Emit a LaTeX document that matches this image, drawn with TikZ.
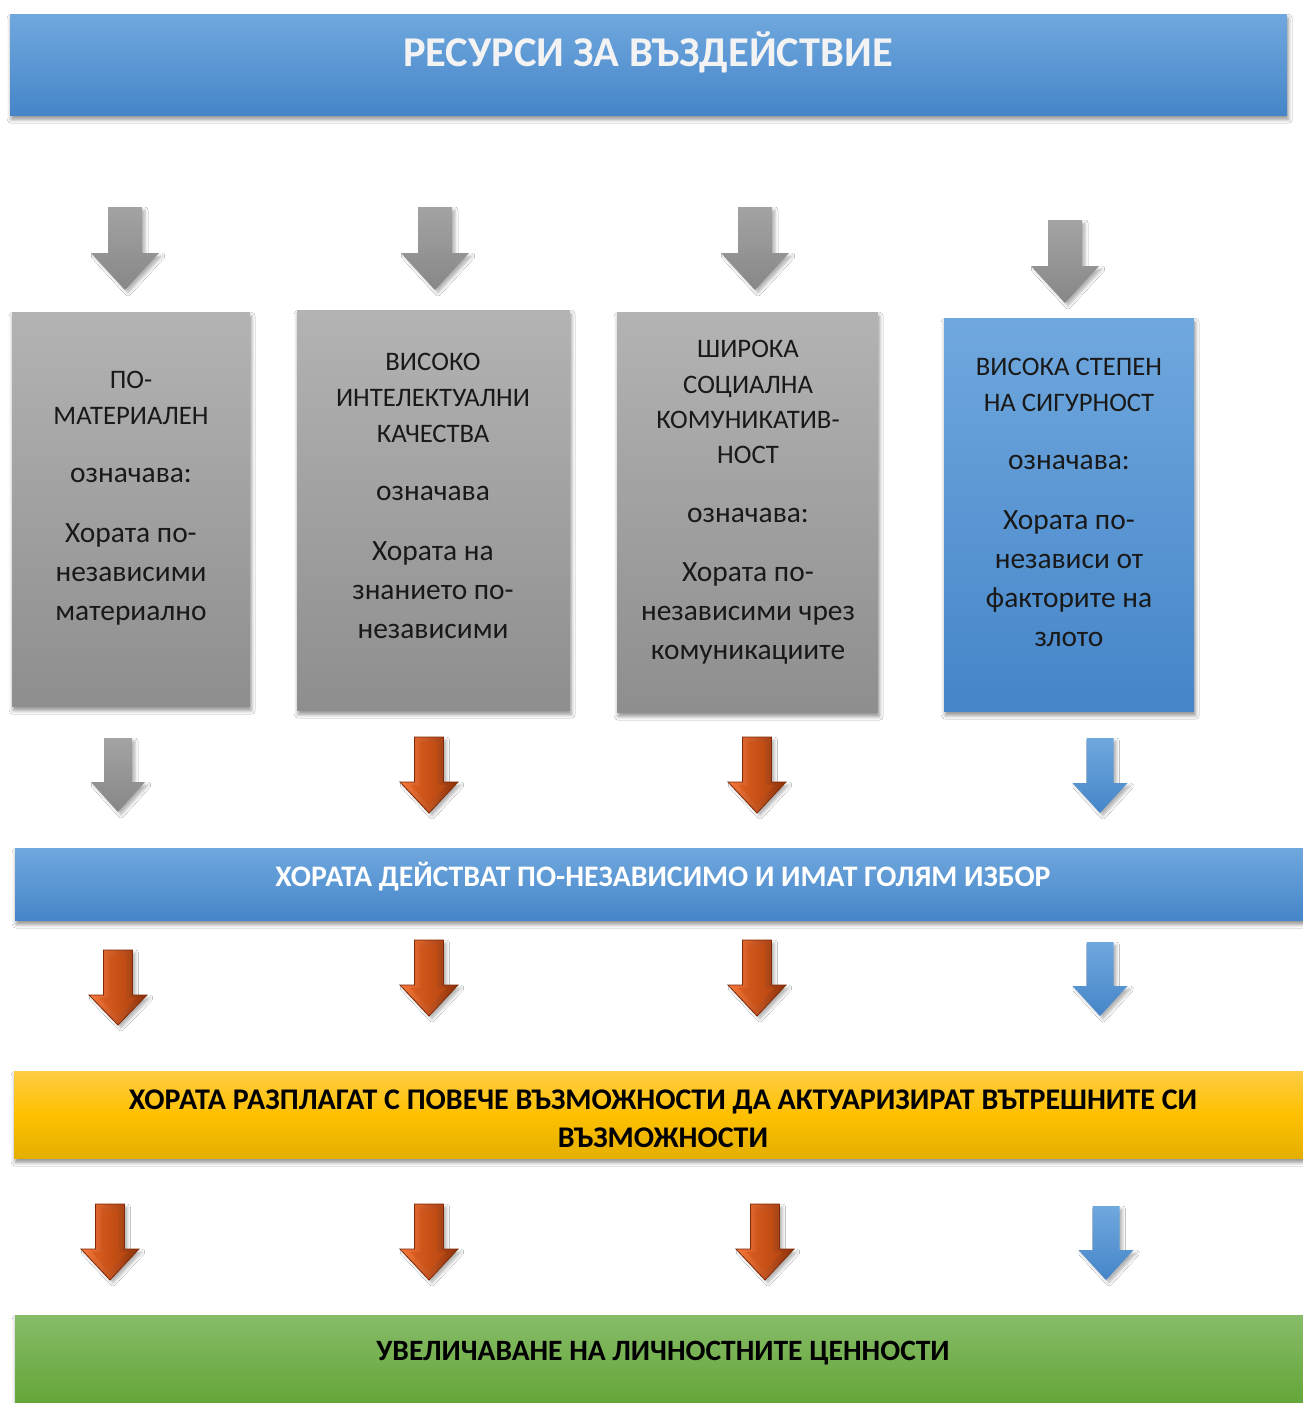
\documentclass[tikz,border=0pt]{standalone}
\usepackage{fontspec}
\setmainfont{Carlito}
\usetikzlibrary{shadows,shadows.blur}
\definecolor{blueTop}{HTML}{70A8DE}
\definecolor{blueBot}{HTML}{4585C8}
\definecolor{grayTop}{HTML}{B3B3B3}
\definecolor{grayBot}{HTML}{8E8E8E}
\definecolor{arrGrayTop}{HTML}{A3A3A3}
\definecolor{arrGrayBot}{HTML}{878787}
\definecolor{oraRimL}{HTML}{F8783A}
\definecolor{oraRimR}{HTML}{8C3008}
\definecolor{oraFaceL}{HTML}{DC5E20}
\definecolor{oraFaceR}{HTML}{B4450F}
\definecolor{oraEdge}{HTML}{7E2A08}
\definecolor{yelTop}{HTML}{FFCD45}
\definecolor{yelMid}{HTML}{FEC000}
\definecolor{yelBot}{HTML}{E4AF00}
\definecolor{grnTop}{HTML}{86BC68}
\definecolor{grnBot}{HTML}{60A232}
\definecolor{txtWhite}{HTML}{F3F3F3}
% block arrow: style, centre x, top y, head-start y, tip y, shaft half-width, head half-width
\newcommand\blockarr[7]{%
  \path[#1] ({(#2)-(#6)},{#3}) -- ({(#2)+(#6)},{#3}) -- ({(#2)+(#6)},{#4}) -- ({(#2)+(#7)},{#4}) -- ({#2},{#5}) -- ({(#2)-(#7)},{#4}) -- ({(#2)-(#6)},{#4}) -- cycle;}
% bevelled orange arrow
\newcommand\orangearr[6]{%
  \blockarr{orouter}{#1}{#2}{#3}{#4}{#5}{#6}%
  \blockarr{orinner}{#1-0.5}{#2+5}{#3+3}{#4-8}{#5-5.5}{#6-11}}
\newcommand\capsz{\fontsize{26.7}{36}\selectfont}
\begin{document}
\begin{tikzpicture}[x=1pt,y=-1pt,
  shad/.style={blur shadow={shadow xshift=1pt,shadow yshift=-4pt,shadow blur radius=4pt,shadow opacity=45}},
  bluebox/.style={shad,top color=blueTop,bottom color=blueBot,draw=none,inner sep=0pt},
  graybox/.style={shad,top color=grayTop,bottom color=grayBot,draw=none,inner sep=0pt},
  yelbox/.style={shad,top color=yelTop,bottom color=yelBot,middle color=yelMid,draw=none,inner sep=0pt},
  grnbox/.style={shad,top color=grnTop,bottom color=grnBot,draw=none,inner sep=0pt},
  boxtext/.style={align=center,text=black!90,inner sep=0pt,anchor=base,font=\fontsize{29.4}{39}\selectfont},
  bandtext/.style={align=center,inner sep=0pt},
  arrshad/.style={blur shadow={shadow xshift=3pt,shadow yshift=-3pt,shadow blur radius=3pt,shadow opacity=30}},
  grayarr/.style={arrshad,top color=arrGrayTop,bottom color=arrGrayBot},
  orouter/.style={arrshad,left color=oraRimL,right color=oraRimR,draw=oraEdge,line width=0.8pt,line join=miter},
  orinner/.style={left color=oraFaceL,right color=oraFaceR},
  bluarr/.style={arrshad,top color=blueTop,bottom color=blueBot},
]
\useasboundingbox (0,0) rectangle (1303,1403);
\fill[white] (0,0) rectangle (1303,1403);

% title
\node[bluebox,minimum width=1277,minimum height=101,anchor=north west] (title) at (10,14) {};
\node[bandtext,text=txtWhite,font=\bfseries\fontsize{42.5}{46}\selectfont] (titletxt) at (648,52) {РЕСУРСИ ЗА ВЪЗДЕЙСТВИЕ};

% top gray arrows
\blockarr{grayarr}{125}{207}{253}{290}{17}{34}
\blockarr{grayarr}{435}{207}{253}{290}{17}{34}
\blockarr{grayarr}{755}{207}{253}{290}{17}{34}
\blockarr{grayarr}{1065}{220}{266}{303}{17}{34}

% four boxes
\node[graybox,minimum width=238,minimum height=394,anchor=north west] (b1) at (12,312) {};
\node[graybox,minimum width=273,minimum height=400,anchor=north west] (b2) at (297,310) {};
\node[graybox,minimum width=261,minimum height=400,anchor=north west] (b3) at (617,312) {};
\node[bluebox,minimum width=250,minimum height=393,anchor=north west] (b4) at (944,318) {};

\node[boxtext] (t1) at (131,620)
 {{\capsz ПО-}\\[-3pt]{\capsz МАТЕРИАЛЕН}\\[19pt]
  означава:\\[21pt]Хората по-\\независими\\материално};
\node[boxtext] (t2) at (433,638)
 {{\capsz ВИСОКО}\\[-3pt]{\capsz ИНТЕЛЕКТУАЛНИ}\\[-3pt]{\capsz КАЧЕСТВА}\\[19pt]
  означава\\[21pt]Хората на\\знанието по-\\независими};
\node[boxtext] (t3) at (748,659)
 {{\capsz ШИРОКА}\\[-3pt]{\capsz СОЦИАЛНА}\\[-4pt]{\capsz КОМУНИКАТИВ-}\\[-4pt]{\capsz НОСТ}\\[20pt]
  означава:\\[20pt]Хората по-\\независими чрез\\комуникациите};
\node[boxtext] (t4) at (1069,646)
 {{\capsz ВИСОКА СТЕПЕН}\\[-3pt]{\capsz НА СИГУРНОСТ}\\[19pt]
  означава:\\[21pt]Хората по-\\независи от\\факторите на\\злото};

% row 2 arrows
\blockarr{grayarr}{118}{738}{782}{812}{14}{27}
\orangearr{429}{737}{782}{813}{14.5}{29}
\orangearr{757}{737}{782}{813}{14.5}{29}
\blockarr{bluarr}{1100}{738}{783}{813}{13.5}{27.5}

% band 2
\node[bluebox,minimum width=1300,minimum height=72,anchor=north west] (band2) at (15,848) {};
\node[bandtext,text=white,font=\bfseries\fontsize{29.8}{34}\selectfont] (band2txt) at (663,877) {ХОРАТА ДЕЙСТВАТ ПО-НЕЗАВИСИМО И ИМАТ ГОЛЯМ ИЗБОР};

% row 3 arrows
\orangearr{118}{950}{995}{1025}{14.5}{29}
\orangearr{429}{940}{985}{1016}{14.5}{29}
\orangearr{757}{940}{985}{1016}{14.5}{29}
\blockarr{bluarr}{1100}{942}{986}{1016}{13.5}{27.5}

% band 3
\node[yelbox,minimum width=1300,minimum height=87,anchor=north west] (band3) at (14,1071) {};
\node[bandtext,text=black,font=\bfseries\fontsize{30}{38}\selectfont] (band3txt) at (663,1119) {ХОРАТА РАЗПЛАГАТ С ПОВЕЧЕ ВЪЗМОЖНОСТИ ДА АКТУАРИЗИРАТ ВЪТРЕШНИТЕ СИ\\ВЪЗМОЖНОСТИ};

% row 4 arrows
\orangearr{110}{1204}{1249}{1280}{14.5}{29}
\orangearr{429}{1204}{1249}{1280}{14.5}{29}
\orangearr{765}{1204}{1249}{1280}{14.5}{29}
\blockarr{bluarr}{1106}{1206}{1250}{1280}{13.5}{27.5}

% band 4
\node[grnbox,minimum width=1300,minimum height=100,anchor=north west] (band4) at (15,1315) {};
\node[bandtext,text=black,font=\bfseries\fontsize{29.5}{34}\selectfont] (band4txt) at (663,1353) {УВЕЛИЧАВАНЕ НА ЛИЧНОСТНИТЕ ЦЕННОСТИ};
\end{tikzpicture}
\end{document}
